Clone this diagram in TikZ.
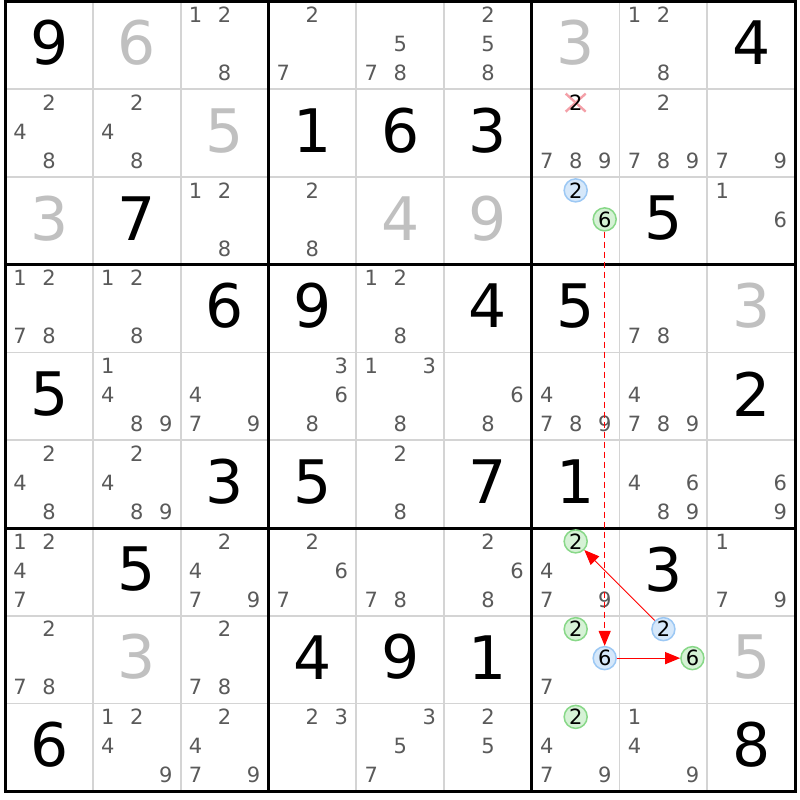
\documentclass[tikz,border=0pt]{standalone}
\usepackage{fontspec}
\setmainfont{DejaVu Sans}
\usetikzlibrary{arrows.meta}
\definecolor{candgrey}{HTML}{5A5A5A}
\definecolor{solvedgrey}{HTML}{C0C0C0}
\definecolor{thingrid}{HTML}{D4D4D4}
\definecolor{bluefill}{HTML}{D6E8FA}
\definecolor{blueline}{HTML}{9CC8F4}
\definecolor{greenfill}{HTML}{D6F2D6}
\definecolor{greenline}{HTML}{88D888}
\definecolor{crossred}{HTML}{F4A0A8}
\definecolor{arrowred}{HTML}{FF0000}
\def\GX{5.3}
\def\GY{1.5}
\def\GS{87.75}
% highlighted candidate: style, row, col, digit, name
\newcommand\hlcand[5]{\node[#1] (#5) at ({\GX+(#3-0.5)*\GS+(mod(#4-1,3)-1)*29},{\GY+(#2-0.5)*\GS+(floor((#4-1)/3)-1)*29-1.5}) {#4};}
\begin{document}
\begin{tikzpicture}[x=1pt,y=-1pt,
  given/.style={font=\fontsize{60}{60}\selectfont, text=black, inner sep=0pt},
  solved/.style={given, text=solvedgrey},
  cand/.style={font=\fontsize{21}{21}\selectfont, text=candgrey, inner sep=0pt},
  hlblue/.style={circle, draw=blueline, fill=bluefill, line width=1.5pt, minimum size=23pt, inner sep=0pt, font=\fontsize{21}{21}\selectfont, text=black},
  hlgreen/.style={hlblue, draw=greenline, fill=greenfill},
  link/.style={draw=arrowred, line width=1.2pt, -{Triangle[length=15pt,width=12pt]}},
  thinline/.style={draw=thingrid, line width=1.8pt},
  boxline/.style={draw=black, line width=3pt},
]
\fill[white] (0,0) rectangle (800,800);
\useasboundingbox (0,0) rectangle (800,800);

% grid
\foreach \i in {1,2,4,5,7,8} {
  \draw[thinline] ({\GX+\i*\GS},\GY) -- ({\GX+\i*\GS},{\GY+9*\GS});
  \draw[thinline] (\GX,{\GY+\i*\GS}) -- ({\GX+9*\GS},{\GY+\i*\GS});
}
\foreach \i in {0,3,6,9} {
  \draw[boxline] ({\GX+\i*\GS},\GY-1.5) -- ({\GX+\i*\GS},{\GY+9*\GS+1.5});
  \draw[boxline] (\GX-1.5,{\GY+\i*\GS}) -- ({\GX+9*\GS+1.5},{\GY+\i*\GS});
}

% givens
\foreach \r/\c/\v in {1/1/9,1/9/4,2/4/1,2/5/6,2/6/3,3/2/7,3/8/5,4/3/6,4/4/9,4/6/4,4/7/5,
  5/1/5,5/9/2,6/3/3,6/4/5,6/6/7,6/7/1,7/2/5,7/8/3,8/4/4,8/5/9,8/6/1,9/1/6,9/9/8} {
  \node[given] (g\r\c) at ({\GX+(\c-0.5)*\GS},{\GY+(\r-0.5)*\GS-2.5}) {\v};
}
% solved
\foreach \r/\c/\v in {1/2/6,1/7/3,2/3/5,3/1/3,3/5/4,3/6/9,4/9/3,8/2/3,8/9/5} {
  \node[solved] (s\r\c) at ({\GX+(\c-0.5)*\GS},{\GY+(\r-0.5)*\GS-2.5}) {\v};
}

% candidates
\foreach \r/\c/\ds in {1/3/{1,2,8},1/4/{2,7},1/5/{5,7,8},1/6/{2,5,8},1/8/{1,2,8},
  2/1/{2,4,8},2/2/{2,4,8},2/7/{7,8,9},2/8/{2,7,8,9},2/9/{7,9},
  3/3/{1,2,8},3/4/{2,8},3/9/{1,6},
  4/1/{1,2,7,8},4/2/{1,2,8},4/5/{1,2,8},4/8/{7,8},
  5/2/{1,4,8,9},5/3/{4,7,9},5/4/{3,6,8},5/5/{1,3,8},5/6/{6,8},5/7/{4,7,8,9},5/8/{4,7,8,9},
  6/1/{2,4,8},6/2/{2,4,8,9},6/5/{2,8},6/8/{4,6,8,9},6/9/{6,9},
  7/1/{1,2,4,7},7/3/{2,4,7,9},7/4/{2,6,7},7/5/{7,8},7/6/{2,6,8},7/7/{4,7,9},7/9/{1,7,9},
  8/1/{2,7,8},8/3/{2,7,8},8/7/{7},
  9/2/{1,2,4,9},9/3/{2,4,7,9},9/4/{2,3},9/5/{3,5,7},9/6/{2,5},9/7/{4,7,9},9/8/{1,4,9}} {
  \foreach \d in \ds {
    \node[cand] (c\r\c\d) at ({\GX+(\c-0.5)*\GS+(mod(\d-1,3)-1)*29},{\GY+(\r-0.5)*\GS+(floor((\d-1)/3)-1)*29-1.5}) {\d};
  }
}

% eliminated candidate 2 in r2c7
\coordinate (x272) at ({\GX+6.5*\GS},{\GY+1.5*\GS-29-1.5});
\draw[crossred, line width=2.4pt] ([shift={(-10,-9)}]x272) -- ([shift={(10,9)}]x272);
\draw[crossred, line width=2.4pt] ([shift={(-10,9)}]x272) -- ([shift={(10,-9)}]x272);
\node[cand, text=black] (c272) at (x272) {2};

% highlighted candidates
\hlcand{hlblue}{3}{7}{2}{h372}
\hlcand{hlgreen}{3}{7}{6}{h376}
\hlcand{hlgreen}{7}{7}{2}{h772}
\hlcand{hlgreen}{8}{7}{2}{h872}
\hlcand{hlblue}{8}{7}{6}{h876}
\hlcand{hlblue}{8}{8}{2}{h882}
\hlcand{hlgreen}{8}{8}{6}{h886}
\hlcand{hlgreen}{9}{7}{2}{h972}

% links
\draw[link, dash pattern=on 6pt off 4pt] (h376) -- (h876);
\draw[link] (h876) -- (h886);
\draw[link, line width=0.8pt] (h882) -- (h772);
\end{tikzpicture}
\end{document}
